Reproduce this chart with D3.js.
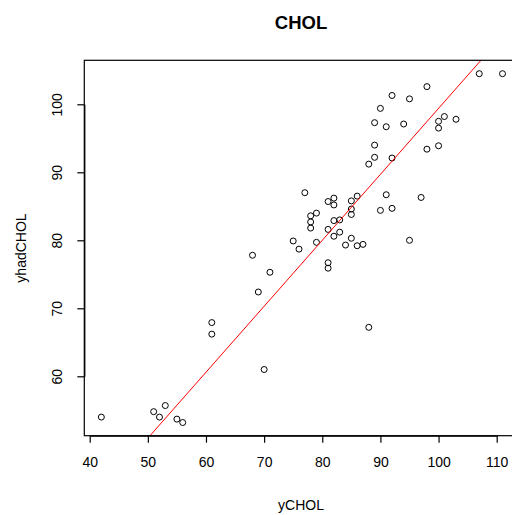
<!DOCTYPE html>
<html>
<head>
<meta charset="utf-8">
<script src="https://cdn.jsdelivr.net/npm/d3@7"></script>
<style>
  html, body { margin: 0; padding: 0; background: #fff; }
  svg { display: block; }
  text { font-family: "Liberation Sans", Arial, sans-serif; fill: #000; }
</style>
</head>
<body>
<svg id="chart" width="512" height="515"></svg>
<script>
// ---- data ----
const title = "CHOL";
const xLabel = "yCHOL";
const yLabel = "yhadCHOL";
const yCHOL = [107,111,98,92,95,90,89,91,94,100,101,103,100,89,98,100,89,92,88,77,
               81,82,82,85,86,91,97,85,85,90,92,78,79,78,78,82,83,81,82,83,
               75,76,79,85,84,86,87,95,81,81,88,42,51,52,53,55,56,61,61,70,
               68,71,69];
const yhadCHOL = [104.5,104.5,102.6,101.3,100.8,99.4,97.3,96.7,97.1,97.5,98.2,97.8,96.5,94.0,93.4,93.9,92.2,92.1,91.2,87.0,
                  85.7,86.2,85.2,85.8,86.5,86.7,86.3,84.6,83.8,84.4,84.7,83.6,84.0,82.7,81.8,82.9,83.0,81.6,80.6,81.2,
                  79.9,78.7,79.7,80.3,79.3,79.2,79.4,80.0,76.7,75.9,67.2,54.0,54.8,54.0,55.7,53.7,53.2,67.9,66.2,61.0,
                  77.8,75.3,72.4];
const xTicks = [40,50,60,70,80,90,100,110];
const yTicks = [60,70,80,90,100];
const fitIntercept = 2.4;
const fitSlope = 0.97;

// ---- layout ----
const box = {left: 84.3, top: 60.3, right: 519, bottom: 435.7};
const svg = d3.select("#chart");

const x = d3.scaleLinear().domain([40, 110]).range([89.7, 496.7]);
const y = d3.scaleLinear().domain([60, 100]).range([376.3, 104.3]);

const data = yCHOL.map((v, i) => ({x: v, y: yhadCHOL[i]}));

// clip
svg.append("defs").append("clipPath").attr("id", "clip")
  .append("rect")
  .attr("x", box.left).attr("y", box.top)
  .attr("width", box.right - box.left).attr("height", box.bottom - box.top);

// points
svg.append("g")
  .selectAll("circle")
  .data(data)
  .join("circle")
  .attr("cx", d => x(d.x))
  .attr("cy", d => y(d.y))
  .attr("r", 3)
  .attr("fill", "none")
  .attr("stroke", "#000")
  .attr("stroke-width", 1);

// fitted line
const xd = [x.invert(box.left), x.invert(box.right)];
svg.append("line")
  .attr("clip-path", "url(#clip)")
  .attr("x1", x(xd[0])).attr("y1", y(fitIntercept + fitSlope * xd[0]))
  .attr("x2", x(xd[1])).attr("y2", y(fitIntercept + fitSlope * xd[1]))
  .attr("stroke", "#ff0000")
  .attr("stroke-width", 1);

// box
svg.append("rect")
  .attr("x", box.left).attr("y", box.top)
  .attr("width", box.right - box.left).attr("height", box.bottom - box.top)
  .attr("fill", "none").attr("stroke", "#000").attr("stroke-width", 1.2);

// x axis
const xAxis = d3.axisBottom(x).tickValues(xTicks).tickSize(7).tickPadding(14).tickSizeOuter(0);
const gx = svg.append("g").attr("transform", `translate(0,${box.bottom})`).call(xAxis);
gx.select(".domain").attr("stroke", "#000").attr("stroke-width", 1.2);
gx.selectAll(".tick line").attr("stroke", "#000").attr("stroke-width", 1.2);
gx.selectAll(".tick text").attr("font-size", "14px").attr("font-family", "Liberation Sans, Arial, sans-serif").attr("fill", "#000");

// y axis
const yAxis = d3.axisLeft(y).tickValues(yTicks).tickSize(7).tickSizeOuter(0);
const gy = svg.append("g").attr("transform", `translate(${box.left},0)`).call(yAxis);
gy.select(".domain").attr("stroke", "#000").attr("stroke-width", 1.2);
gy.selectAll(".tick line").attr("stroke", "#000").attr("stroke-width", 1.2);
gy.selectAll(".tick text")
  .attr("font-size", "14px").attr("font-family", "Liberation Sans, Arial, sans-serif").attr("fill", "#000")
  .attr("x", 0).attr("dy", null).attr("text-anchor", "middle")
  .attr("transform", `translate(${61.5 - box.left},0) rotate(-90)`);

// title & labels
svg.append("text")
  .attr("x", 301).attr("y", 29)
  .attr("text-anchor", "middle")
  .attr("font-size", "18.5px").attr("font-weight", "bold")
  .text(title);

svg.append("text")
  .attr("x", 301).attr("y", 510)
  .attr("text-anchor", "middle")
  .attr("font-size", "14px")
  .text(xLabel);

svg.append("text")
  .attr("transform", `translate(25.5,248) rotate(-90)`)
  .attr("text-anchor", "middle")
  .attr("font-size", "14px")
  .text(yLabel);
</script>
</body>
</html>
